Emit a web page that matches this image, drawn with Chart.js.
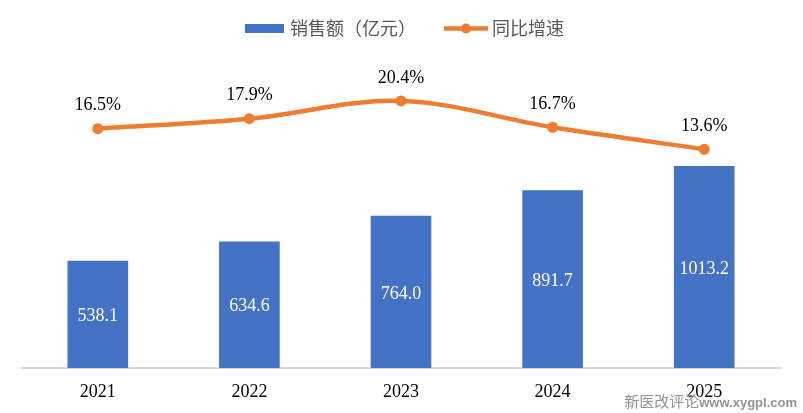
<!DOCTYPE html>
<html>
<head>
<meta charset="utf-8">
<script src="https://cdn.jsdelivr.net/npm/chart.js@4"></script>
<style>
  html, body { margin: 0; padding: 0; background: #fff; }
  #wrap { position: relative; width: 803px; height: 413px; }
  canvas { display: block; }
  #mark {
    position: absolute; right: 6px; bottom: 1px;
    color: #939393; white-space: nowrap; line-height: 18px;
    text-shadow: 0 0 2px #fff, 0 0 2px #fff;
  }
  #mark .cn { font-family: "Noto Sans CJK SC", sans-serif; font-size: 15px; }
  #mark .url { font-family: "Liberation Sans", Arial, sans-serif; font-weight: bold; font-size: 13px; }
</style>
</head>
<body>
<div id="wrap">
  <canvas id="chart" width="803" height="413"></canvas>
  <div id="mark"><span class="cn">新医改评论</span><span class="url">www.xygpl.com</span></div>
</div>
<script>
const years = ['2021', '2022', '2023', '2024', '2025'];
const sales = [538.1, 634.6, 764.0, 891.7, 1013.2];
const growth = [16.5, 17.9, 20.4, 16.7, 13.6];
const salesName = '销售额（亿元）';
const growthName = '同比增速';

const BLUE = '#4472C4';
const ORANGE = '#ED7D31';
const SERIF = '"Liberation Serif", "Times New Roman", serif';

// legend drawn by hand so it looks like the Excel one
const legendPlugin = {
    id: 'topLegend',
    afterDraw(chart) {
        const ctx = chart.ctx;
        ctx.save();
        ctx.fillStyle = BLUE;
        ctx.fillRect(245, 24, 39, 9);
        ctx.strokeStyle = ORANGE;
        ctx.lineWidth = 4.5;
        ctx.beginPath();
        ctx.moveTo(444, 28.5);
        ctx.lineTo(488, 28.5);
        ctx.stroke();
        ctx.fillStyle = ORANGE;
        ctx.beginPath();
        ctx.arc(466, 28.5, 5, 0, Math.PI * 2);
        ctx.fill();
        ctx.fillStyle = '#595959';
        ctx.font = '18px "Noto Sans CJK SC", sans-serif';
        ctx.textBaseline = 'middle';
        ctx.fillText(salesName, 290, 28);
        ctx.fillText(growthName, 492, 28);
        ctx.restore();
    }
};

const labelPlugin = {
    id: 'valueLabels',
    afterDatasetsDraw(chart) {
        const ctx = chart.ctx;
        ctx.save();
        ctx.font = '18px ' + SERIF;
        ctx.textAlign = 'center';
        ctx.textBaseline = 'middle';
        chart.getDatasetMeta(1).data.forEach((bar, i) => {
            ctx.fillStyle = '#ffffff';
            ctx.fillText(sales[i].toFixed(1), bar.x, (bar.y + bar.base) / 2 + 2);
        });
        chart.getDatasetMeta(0).data.forEach((pt, i) => {
            ctx.fillStyle = '#000000';
            ctx.fillText(growth[i].toFixed(1) + '%', pt.x, pt.y - 23);
        });
        ctx.restore();
    }
};

new Chart(document.getElementById('chart'), {
    data: {
        labels: years,
        datasets: [
            {
                type: 'line',
                label: growthName,
                data: growth,
                yAxisID: 'y2',
                borderColor: ORANGE,
                backgroundColor: ORANGE,
                borderWidth: 4.5,
                pointRadius: 5.5,
                pointBorderWidth: 0,
                tension: 0.35,
                order: 0
            },
            {
                type: 'bar',
                label: salesName,
                data: sales,
                yAxisID: 'y',
                backgroundColor: BLUE,
                barPercentage: 0.4,
                categoryPercentage: 1,
                order: 1
            }
        ]
    },
    options: {
        responsive: false,
        animation: false,
        layout: { padding: { left: 22, right: 23, top: 60, bottom: 10 } },
        plugins: {
            legend: { display: false },
            tooltip: { enabled: false }
        },
        scales: {
            x: {
                grid: { display: false },
                border: { color: '#d9d9d9', width: 2 },
                ticks: { color: '#000', font: { family: SERIF, size: 18 }, padding: 5 },
                afterFit(scale) { scale.height = 35; }
            },
            y: {
                display: false,
                min: 0,
                max: 1545
            },
            y2: {
                display: false,
                min: -17.2,
                max: 26.17
            }
        }
    },
    plugins: [legendPlugin, labelPlugin]
});
</script>
</body>
</html>
